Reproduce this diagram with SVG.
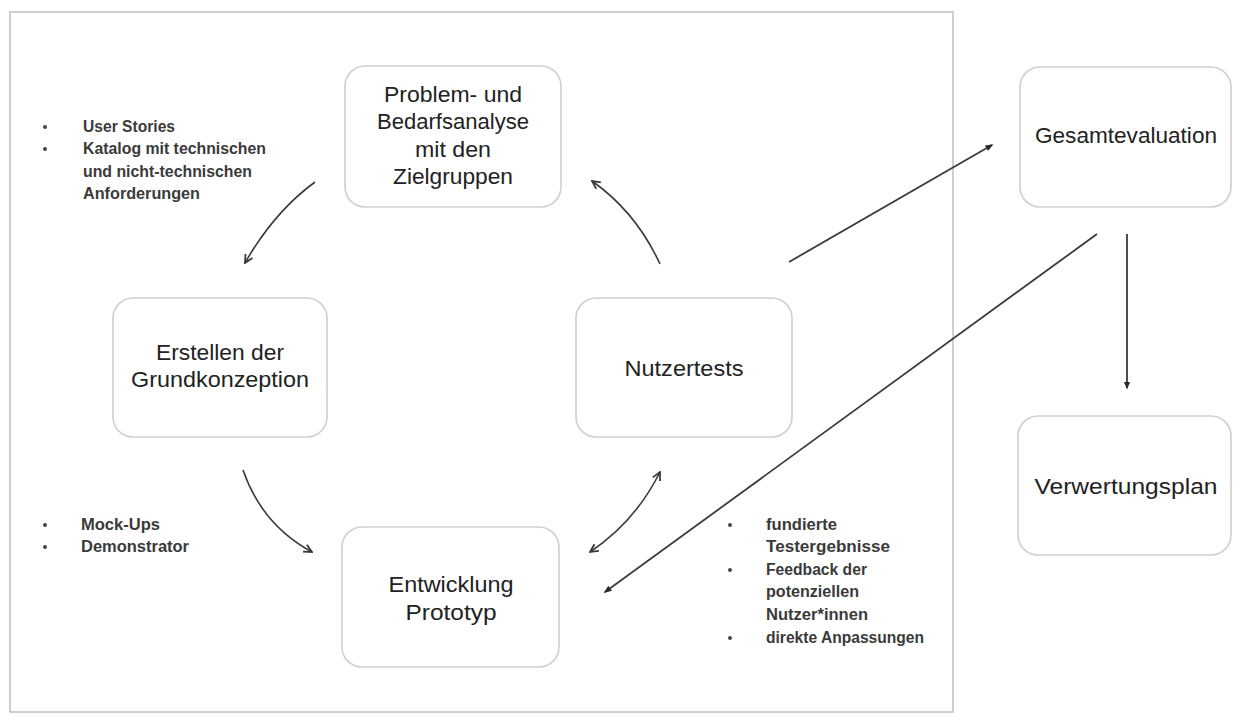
<svg xmlns="http://www.w3.org/2000/svg" width="1233" height="716" viewBox="0 0 1233 716">
<style>
.frame{fill:none;stroke:#c4c4c4;stroke-width:1.6}
.box{fill:#fff;stroke:#cfcfcf;stroke-width:1.6}
.nt{font-family:"Liberation Sans",Arial,sans-serif;font-size:22px;fill:#222;text-anchor:middle}
.lt{font-family:"Liberation Sans",Arial,sans-serif;font-size:16px;font-weight:bold;fill:#3a3a3a}
.bul{fill:#444}
.cv{fill:none;stroke:#3a3a3a;stroke-width:1.6}
.ln{fill:none;stroke:#3a3a3a;stroke-width:1.8}
</style>
<defs>
<marker id="chev" viewBox="0 0 10 10" refX="9" refY="5" markerWidth="10" markerHeight="10" markerUnits="userSpaceOnUse" orient="auto-start-reverse">
<path d="M1,1 L9,5 L1,9" fill="none" stroke="#3a3a3a" stroke-width="1.8"/>
</marker>
<marker id="blob" viewBox="0 0 10 10" refX="8" refY="5" markerWidth="8" markerHeight="8" markerUnits="userSpaceOnUse" orient="auto">
<path d="M0,1 L10,5 L0,9 Z" fill="#2a2a2a"/>
</marker>
</defs>
<rect class="frame" x="10" y="12" width="943" height="700"/>
<g id="connectors">
<path class="cv" d="M315,182 Q274,212 245,263" marker-end="url(#chev)"/>
<path class="cv" d="M243,470 Q262,525 312,552" marker-end="url(#chev)"/>
<path class="cv" d="M660,264 Q636,212 592,181" marker-end="url(#chev)"/>
<path class="cv" d="M660,472 Q635,522 590,552" marker-start="url(#chev)" marker-end="url(#chev)"/>
<line class="ln" x1="789" y1="262" x2="992" y2="145" marker-end="url(#blob)"/>
<line class="ln" x1="1097" y1="234" x2="605" y2="592" marker-end="url(#blob)"/>
<line class="ln" x1="1127" y1="234" x2="1127" y2="388" marker-end="url(#blob)"/>
</g>
<g id="node-problem">
<rect class="box" x="345" y="66" width="216" height="141" rx="20"/>
<text class="nt" x="453" y="102" textLength="138" lengthAdjust="spacingAndGlyphs">Problem- und</text>
<text class="nt" x="453" y="129" textLength="152" lengthAdjust="spacingAndGlyphs">Bedarfsanalyse</text>
<text class="nt" x="453" y="157" textLength="76" lengthAdjust="spacingAndGlyphs">mit den</text>
<text class="nt" x="453" y="184" textLength="120" lengthAdjust="spacingAndGlyphs">Zielgruppen</text>
</g>
<g id="node-erstellen">
<rect class="box" x="113" y="298" width="214" height="139" rx="20"/>
<text class="nt" x="220" y="360" textLength="128" lengthAdjust="spacingAndGlyphs">Erstellen der</text>
<text class="nt" x="220" y="387" textLength="178" lengthAdjust="spacingAndGlyphs">Grundkonzeption</text>
</g>
<g id="node-entwicklung">
<rect class="box" x="342" y="527" width="217" height="140" rx="20"/>
<text class="nt" x="451" y="592" textLength="125" lengthAdjust="spacingAndGlyphs">Entwicklung</text>
<text class="nt" x="451" y="620" textLength="91" lengthAdjust="spacingAndGlyphs">Prototyp</text>
</g>
<g id="node-nutzertests">
<rect class="box" x="576" y="298" width="216" height="139" rx="20"/>
<text class="nt" x="684" y="376" textLength="119" lengthAdjust="spacingAndGlyphs">Nutzertests</text>
</g>
<g id="node-gesamtevaluation">
<rect class="box" x="1020" y="67" width="211" height="140" rx="20"/>
<text class="nt" x="1126" y="143" textLength="182" lengthAdjust="spacingAndGlyphs">Gesamtevaluation</text>
</g>
<g id="node-verwertungsplan">
<rect class="box" x="1018" y="416" width="213" height="139" rx="20"/>
<text class="nt" x="1126" y="494" textLength="183" lengthAdjust="spacingAndGlyphs">Verwertungsplan</text>
</g>
<g id="list-requirements">
<circle class="bul" cx="45" cy="127" r="2"/>
<circle class="bul" cx="45" cy="149" r="2"/>
<text class="lt" x="83" y="132" textLength="92" lengthAdjust="spacingAndGlyphs">User Stories</text>
<text class="lt" x="83" y="154" textLength="183" lengthAdjust="spacingAndGlyphs">Katalog mit technischen</text>
<text class="lt" x="83" y="177" textLength="169" lengthAdjust="spacingAndGlyphs">und nicht-technischen</text>
<text class="lt" x="83" y="199" textLength="117" lengthAdjust="spacingAndGlyphs">Anforderungen</text>
</g>
<g id="list-mockups">
<circle class="bul" cx="45" cy="525" r="2"/>
<circle class="bul" cx="45" cy="547" r="2"/>
<text class="lt" x="81" y="530" textLength="79" lengthAdjust="spacingAndGlyphs">Mock-Ups</text>
<text class="lt" x="81" y="552" textLength="108" lengthAdjust="spacingAndGlyphs">Demonstrator</text>
</g>
<g id="list-tests">
<circle class="bul" cx="730" cy="525" r="2"/>
<circle class="bul" cx="730" cy="570" r="2"/>
<circle class="bul" cx="730" cy="638" r="2"/>
<text class="lt" x="766" y="530" textLength="71" lengthAdjust="spacingAndGlyphs">fundierte</text>
<text class="lt" x="766" y="552" textLength="124" lengthAdjust="spacingAndGlyphs">Testergebnisse</text>
<text class="lt" x="766" y="575" textLength="101" lengthAdjust="spacingAndGlyphs">Feedback der</text>
<text class="lt" x="766" y="597" textLength="93" lengthAdjust="spacingAndGlyphs">potenziellen</text>
<text class="lt" x="766" y="620" textLength="102" lengthAdjust="spacingAndGlyphs">Nutzer*innen</text>
<text class="lt" x="766" y="643" textLength="158" lengthAdjust="spacingAndGlyphs">direkte Anpassungen</text>
</g>
</svg>
